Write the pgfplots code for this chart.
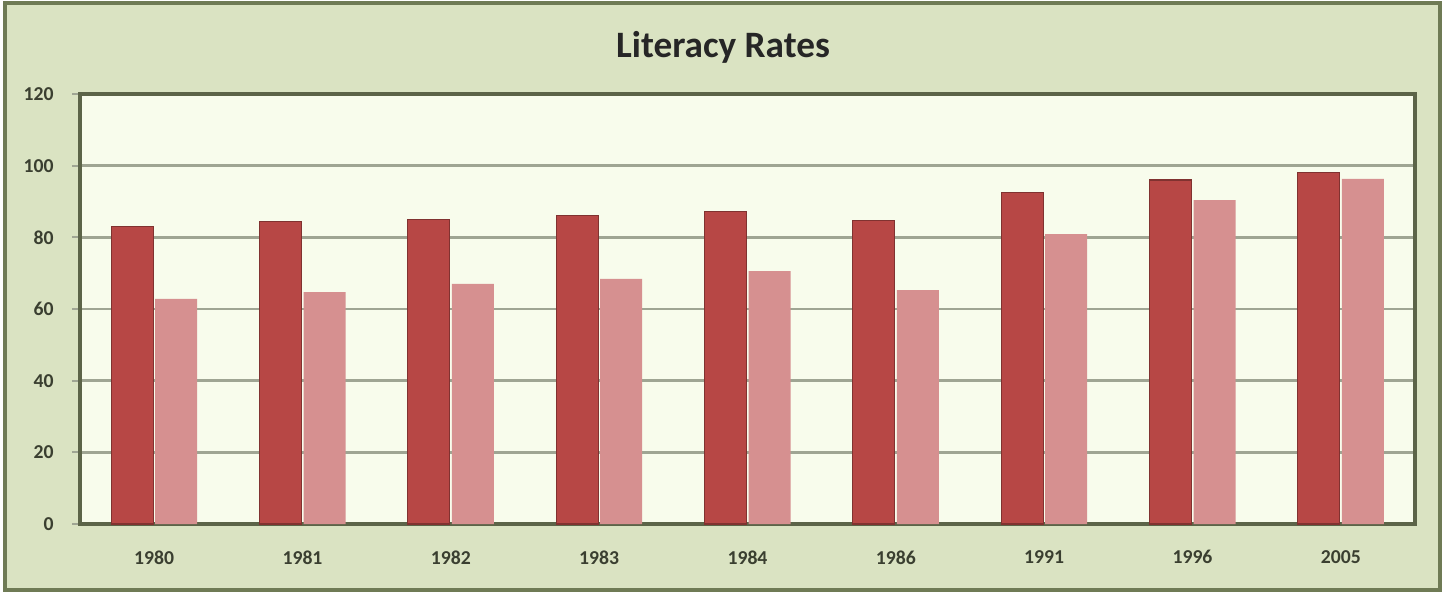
\documentclass[border=0pt]{standalone}
\usepackage{pgfplots}
\pgfplotsset{compat=1.18}
\usepackage{fontspec}
\setmainfont{Carlito}
\definecolor{outerbg}{HTML}{DAE3C2}
\definecolor{outerborder}{HTML}{6F7B55}
\definecolor{plotbg}{HTML}{F8FCEC}
\definecolor{darkbar}{HTML}{B74745}
\definecolor{lightbar}{HTML}{D69090}
\definecolor{gridc}{HTML}{9FA593}
\definecolor{axisc}{HTML}{5C6448}
\definecolor{textc}{HTML}{3A3F30}
\begin{document}
\begin{tikzpicture}
\useasboundingbox (-0.80cm,-0.70cm) rectangle (13.67cm,5.24cm);
\fill[outerbg] (-0.75cm,-0.66cm) rectangle (13.60cm,5.21cm);
\draw[outerborder, line width=1.2pt] (-0.75cm,-0.66cm) rectangle (13.60cm,5.21cm);
\node[font=\fontsize{10.6}{12}\selectfont\bfseries, text=black!85] at (6.43cm,4.77cm) {Literacy Rates};
\begin{axis}[
  at={(0,0)}, anchor=south west,
  scale only axis,
  width=13.35cm, height=4.30cm,
  xmin=-0.5, xmax=8.5,
  ymin=0, ymax=120,
  ytick={0,20,...,120},
  xtick={0,...,8},
  xticklabels={1980,1981,1982,1983,1984,1986,1991,1996,2005},
  /pgf/number format/assume math mode=true,
  extra x ticks={0.5,1.5,...,7.5},
  extra x tick labels={},
  extra x tick style={major tick length=0.08cm, tick style={draw=axisc, line width=0.5pt}, tick align=outside, grid=none},
  major x tick style={draw=none},
  xtick pos=bottom, ytick pos=left,
  tick align=outside,
  major tick length=0.08cm,
  ytick style={draw=gridc, line width=0.6pt},
  ymajorgrids,
  grid style={draw=gridc, line width=0.8pt},
  axis background/.style={fill=plotbg},
  axis line style={draw=axisc, line width=1.3pt},
  tick label style={font=\fontsize{5.6}{7}\selectfont\bfseries, text=textc},
  xticklabel style={yshift=-0.06cm},
  yticklabel style={xshift=-0.06cm},
  ybar=0.02cm,
  bar width=0.42cm,
]
\addplot[fill=darkbar, draw=darkbar!70!black, line width=0.3pt] coordinates {
(0,82.9) (1,84.3) (2,85.1) (3,86.2) (4,87.1) (5,84.8) (6,92.4) (7,96.0) (8,98.2)};
\addplot[fill=lightbar, draw=none] coordinates {
(0,62.8) (1,64.7) (2,67.0) (3,68.4) (4,70.6) (5,65.3) (6,80.9) (7,90.4) (8,96.3)};
\end{axis}
\end{tikzpicture}
\end{document}
